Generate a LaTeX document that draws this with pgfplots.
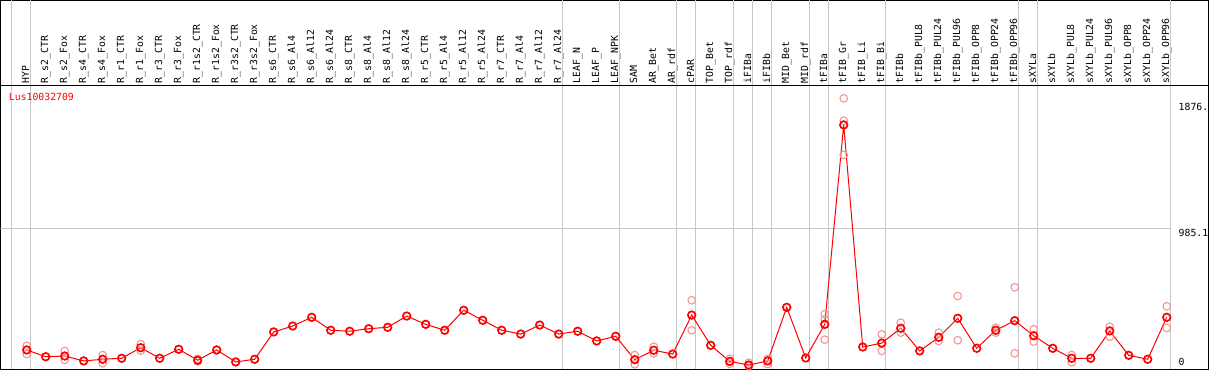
\documentclass[border=0pt]{standalone}
\usepackage{pgfplots}
\pgfplotsset{compat=1.18}
\usepackage{fontspec}
\newfontfamily\chartfont{DejaVu Sans Mono}
\definecolor{gridgray}{RGB}{200,200,200}
\definecolor{repred}{RGB}{240,150,150}
\pgfplotstableread{
i v
0 121
1 73
2 78
3 43
4 55
5 62
6 137
7 62
8 126
9 48
10 121
11 36
12 55
13 249
14 291
15 353
16 261
17 254
18 272
19 282
20 362
21 303
22 261
23 403
24 332
25 261
26 234
27 298
28 234
29 254
30 185
31 218
32 52
33 119
34 92
35 369
36 154
37 40
38 14
39 43
40 424
41 64
42 303
43 1719
44 142
45 170
46 275
47 114
48 211
49 346
50 133
51 261
52 329
53 222
54 133
55 62
56 62
57 256
58 83
59 55
60 353
}\means
\pgfplotstableread{
i v
0 151
0 92
2 114
2 50
4 85
4 26
6 163
6 116
9 40
9 57
32 19
32 85
33 144
33 97
35 474
35 261
37 23
37 59
38 31
38 7
39 57
39 21
42 376
42 339
42 194
43 1908
43 1749
43 1506
45 232
45 114
46 315
46 244
48 244
48 185
49 504
49 190
51 279
51 244
52 566
52 97
53 268
53 180
55 85
55 33
57 286
57 215
60 431
60 277
}\reps
\begin{document}
\begin{tikzpicture}
\path[use as bounding box] (0,0) rectangle (1209pt,370pt);
% header axis
\begin{axis}[at={(0.5pt,284.7pt)}, anchor=south west, scale only axis,
  width=1208pt, height=84.8pt, xmin=-1.379, xmax=62.2, ymin=0, ymax=1,
  ytick=\empty, xtick={0,...,60}, major tick length=0pt,
  axis line style={line width=1pt, black},
  xticklabels={HYP,R\_s2\_CTR,R\_s2\_Fox,R\_s4\_CTR,R\_s4\_Fox,R\_r1\_CTR,R\_r1\_Fox,R\_r3\_CTR,R\_r3\_Fox,R\_r1s2\_CTR,R\_r1s2\_Fox,R\_r3s2\_CTR,R\_r3s2\_Fox,R\_s6\_CTR,R\_s6\_Al4,R\_s6\_Al12,R\_s6\_Al24,R\_s8\_CTR,R\_s8\_Al4,R\_s8\_Al12,R\_s8\_Al24,R\_r5\_CTR,R\_r5\_Al4,R\_r5\_Al12,R\_r5\_Al24,R\_r7\_CTR,R\_r7\_Al4,R\_r7\_Al12,R\_r7\_Al24,LEAF\_N,LEAF\_P,LEAF\_NPK,SAM,AR\_Bet,AR\_rdf,cPAR,TOP\_Bet,TOP\_rdf,iFIBa,iFIBb,MID\_Bet,MID\_rdf,tFIBa,tFIB\_Gr,tFIB\_Li,tFIB\_Bi,tFIBb,tFIBb\_PUL8,tFIBb\_PUL24,tFIBb\_PUL96,tFIBb\_OPP8,tFIBb\_OPP24,tFIBb\_OPP96,sXYLa,sXYLb,sXYLb\_PUL8,sXYLb\_PUL24,sXYLb\_PUL96,sXYLb\_OPP8,sXYLb\_OPP24,sXYLb\_OPP96},
  xticklabel style={font=\chartfont\fontsize{9.8}{10}\selectfont, rotate=90, anchor=west,
    inner sep=0pt, inner xsep=2pt, text height=7.3pt, text depth=2.3pt},
  extra x ticks={-0.8,0.2,28.2,31.2,34.2,35.2,37.2,38.2,39.2,41.2,42.2,45.2,52.2,53.2,60.2},
  extra x tick labels={},
  extra x tick style={grid=major, major grid style={gridgray, line width=1pt}},
]
\end{axis}
% data axis
\begin{axis}[at={(0.5pt,1pt)}, anchor=south west, scale only axis,
  width=1208pt, height=283.7pt, xmin=-1.379, xmax=62.2, ymin=-14.2, ymax=2000.6,
  xtick={-0.8,0.2,28.2,31.2,34.2,35.2,37.2,38.2,39.2,41.2,42.2,45.2,52.2,53.2,60.2},
  xticklabels={}, xmajorgrids, major grid style={gridgray, line width=1pt},
  ytick=\empty, major tick length=0pt,
  axis line style={line width=1pt, black},
]
\draw[gridgray, line width=1pt] (axis cs:-1.379,985.1) -- (axis cs:60.2,985.1);
\addplot[only marks, mark=o, mark size=3.8pt, repred, mark options={line width=1.1pt}] table[x=i, y=v] {\reps};
\addplot[red, line width=1pt, mark=o, mark size=3.8pt, mark options={line width=1.7pt, solid}] table[x=i, y=v] {\means};
\end{axis}
\node[anchor=base west, inner sep=0pt, text=red, font=\chartfont\fontsize{9.8}{10}\selectfont] at (8.8pt,269.3pt) {Lus10032709};
\node[anchor=base west, inner sep=0pt, font=\chartfont\fontsize{9.8}{10}\selectfont] at (1178.5pt,259.3pt) {1876.};
\node[anchor=base west, inner sep=0pt, font=\chartfont\fontsize{9.8}{10}\selectfont] at (1178.5pt,133.5pt) {985.1};
\node[anchor=base west, inner sep=0pt, font=\chartfont\fontsize{9.8}{10}\selectfont] at (1178.5pt,5pt) {0};
\end{tikzpicture}
\end{document}
